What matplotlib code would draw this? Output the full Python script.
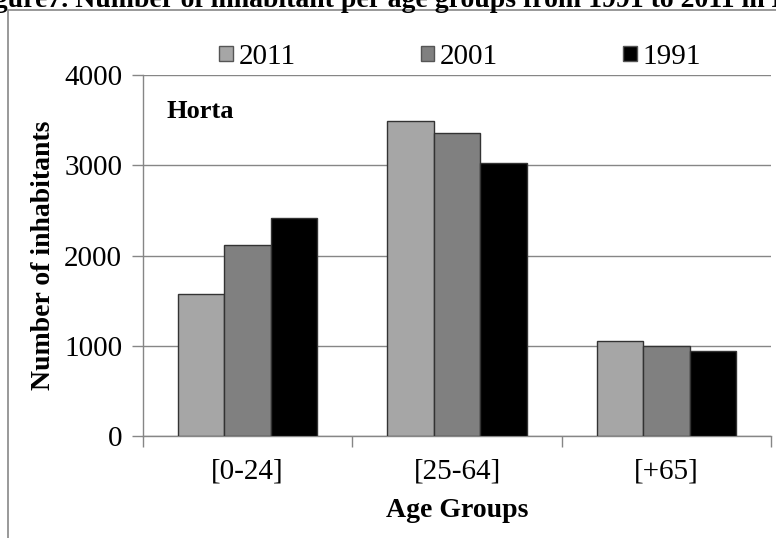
import numpy as np
import matplotlib.pyplot as plt
from matplotlib.patches import Rectangle

# data
age_groups = ["[0-24]", "[25-64]", "[+65]"]
years = ["2011", "2001", "1991"]
pop_2011 = [1570, 3490, 1055]
pop_2001 = [2115, 3355, 995]
pop_1991 = [2415, 3025, 940]

plt.rcParams['font.family'] = ['Liberation Serif', 'DejaVu Serif']

fig = plt.figure(figsize=(7.76, 5.38), dpi=100)
ax = fig.add_axes([143 / 776, 1 - 436 / 538, 628 / 776, 361 / 538])

colors = ['#a6a6a6', '#808080', '#000000']
series = [pop_2011, pop_2001, pop_1991]
x = np.arange(len(age_groups))
width = 0.222
for i, (vals, c, lab) in enumerate(zip(series, colors, years)):
    ax.bar(x + (i - 1) * width, vals, width, color=c, edgecolor='#333333',
           linewidth=1.0, label=lab, zorder=3)

ax.set_xlim(-0.5, 2.5)
ax.set_ylim(0, 4000)
ax.set_yticks([0, 1000, 2000, 3000, 4000])
ax.yaxis.grid(True, color='#868686', linewidth=1.0, zorder=0)
ax.set_xticks(x)
ax.set_xticklabels(age_groups, fontsize=21)
ax.tick_params(axis='x', length=0, pad=16)
ax.set_xticks([-0.5, 0.5, 1.5, 2.5], minor=True)
ax.tick_params(axis='x', which='minor', length=8, color='#868686', width=1)
ax.tick_params(axis='y', labelsize=21, length=8, color='#868686', width=1, pad=7)
for s in ['top', 'right']:
    ax.spines[s].set_visible(False)
for s in ['left', 'bottom']:
    ax.spines[s].set_color('#868686')
    ax.spines[s].set_linewidth(1.0)

ax.set_xlabel('Age Groups', fontsize=20, fontweight='bold', labelpad=10)
ax.set_ylabel('Number of inhabitants', fontsize=20, fontweight='bold', labelpad=6)
ax.text(0.038, 0.898, 'Horta', transform=ax.transAxes, fontsize=19,
        fontweight='bold', va='center', ha='left')

leg = ax.legend(loc='center', ncol=3, frameon=False, fontsize=21,
                handlelength=0.45, handleheight=0.45, handletextpad=0.2,
                columnspacing=4.3)
leg.set_bbox_to_anchor((0.505, 1 + 18 / 361), transform=ax.transAxes)
for h in leg.legend_handles:
    h.set_edgecolor('#555555')

# outer frame of the original figure box
fig.patches.append(Rectangle((8 / 776, -0.1), 1.2, 1 - 10 / 538 + 0.1,
                             transform=fig.transFigure, fill=False,
                             edgecolor='#888888', linewidth=1.2))
fig.text(-0.04, 1 - 7 / 538,
         'Figure7. Number of inhabitant per age groups from 1991 to 2011 in Horta',
         fontsize=20, fontweight='bold', ha='left', va='baseline')

plt.savefig('out.png', dpi=100)
